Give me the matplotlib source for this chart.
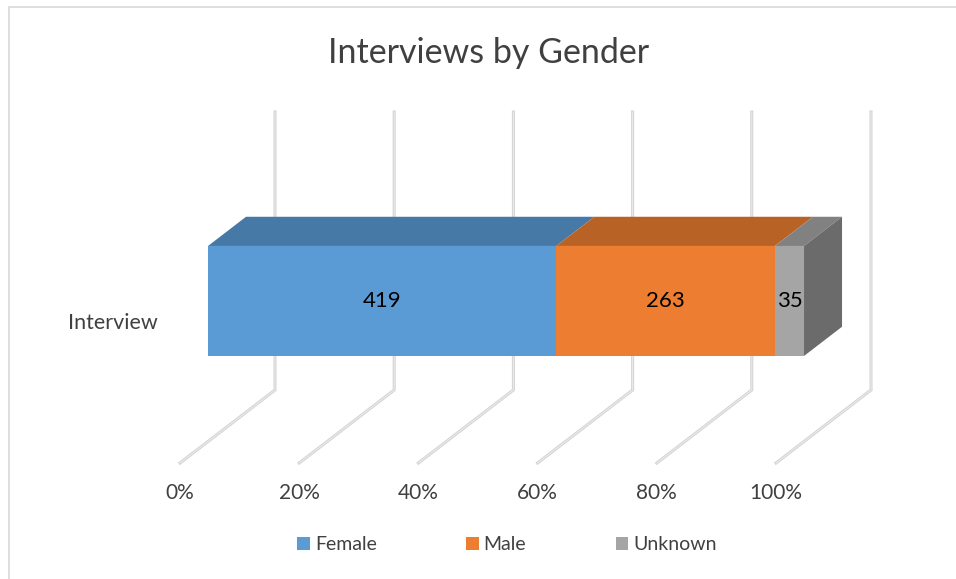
import matplotlib.pyplot as plt
from matplotlib.patches import Polygon, Rectangle
import numpy as np

plt.rcParams['font.family'] = ['Lato', 'DejaVu Sans']

# data
category = 'Interview'
series = ['Female', 'Male', 'Unknown']
values = [419, 263, 35]
colors = ['#5B9BD5', '#ED7D31', '#A5A5A5']
ticks = [0, 20, 40, 60, 80, 100]
tick_labels = ['0%', '20%', '40%', '60%', '80%', '100%']

W, H = 956, 579
fig = plt.figure(figsize=(W / 100, H / 100), dpi=100)
ax = fig.add_axes([0, 0, 1, 1])

# 1 unit = 5.96 px, floor front at 0% -> px 180, y 463
s = 5.96
ax.set_xlim(-180 / s, (W - 180) / s)
ax.set_ylim((463 - H) / s, 463 / s)
ax.axis('off')

# depth shift for full depth
ddx, ddz = 95 / s, 73 / s
wall_h = (463 - 112) / s


def proj(p, z, d):
    return (p + ddx * d, z + ddz * d)


# gridlines: floor diagonal + back wall vertical
for t in ticks:
    x0, y0 = proj(t, 0, 0)
    x1, y1 = proj(t, 0, 1)
    ax.plot([x0, x1, x1], [y0, y1, wall_h], color='#d4d4d4', lw=2.2,
            solid_joinstyle='miter', zorder=1)
    ax.plot([x0, x1, x1], [y0, y1, wall_h], color='#ececec', lw=0.7,
            solid_joinstyle='miter', zorder=1)


def shade(c, f):
    r, g, b = [int(c[i:i + 2], 16) for i in (1, 3, 5)]
    return (r * f / 255, g * f / 255, b * f / 255)


# bar
pct = np.array(values) / sum(values) * 100
left = np.concatenate([[0], np.cumsum(pct)[:-1]])
d0, d1 = 0.295, 0.695
z0, z1 = 85.5 / s, 195.5 / s
for i, (l, w, c) in enumerate(zip(left, pct, colors)):
    r = l + w
    front = [proj(l, z0, d0), proj(r, z0, d0), proj(r, z1, d0), proj(l, z1, d0)]
    top = [proj(l, z1, d0), proj(r, z1, d0), proj(r, z1, d1), proj(l, z1, d1)]
    ax.add_patch(Polygon(top, closed=True, fc=shade(c, 0.78), ec='none', zorder=3))
    if i == len(values) - 1:
        side = [proj(r, z0, d0), proj(r, z0, d1), proj(r, z1, d1), proj(r, z1, d0)]
        ax.add_patch(Polygon(side, closed=True, fc=shade(c, 0.65), ec='none', zorder=3))
    ax.add_patch(Polygon(front, closed=True, fc=c, ec='none', zorder=4))
    cx, cy = proj(l + w / 2, (z0 + z1) / 2, d0)
    ax.text(cx, cy, str(values[i]), ha='center', va='center', fontsize=16,
            color='black', zorder=5)

# category label
lx, ly = proj(0, (z0 + z1) / 2, d0)
ax.text(lx - 50 / s, ly - 22 / s, category, ha='right', va='center', fontsize=15.5,
        color='#404040')

# tick labels
for t, lab in zip(ticks, tick_labels):
    ax.text(t, -30 / s, lab, ha='center', va='center', fontsize=15, color='#404040')

fig.text(489 / W, 1 - 53 / H, 'Interviews by Gender', ha='center', va='center',
         fontsize=24.5, color='#404040')

handles = [Rectangle((0, 0), 1, 1, fc=c, ec='none') for c in colors]
fig.legend(handles, series, loc='center', bbox_to_anchor=(507 / W, 1 - 545 / H),
           ncol=3, frameon=False, fontsize=14, handlelength=0.65, handleheight=0.65,
           handletextpad=0.25, columnspacing=4.6, labelcolor='#404040')

# chart border (left and top visible)
fig.patches.append(Rectangle((9 / W, -0.1), 1.2, 1 - 7 / H + 0.1,
                             transform=fig.transFigure, fill=False,
                             ec='#d9d9d9', lw=1.2))

fig.savefig('out.png', dpi=100)
